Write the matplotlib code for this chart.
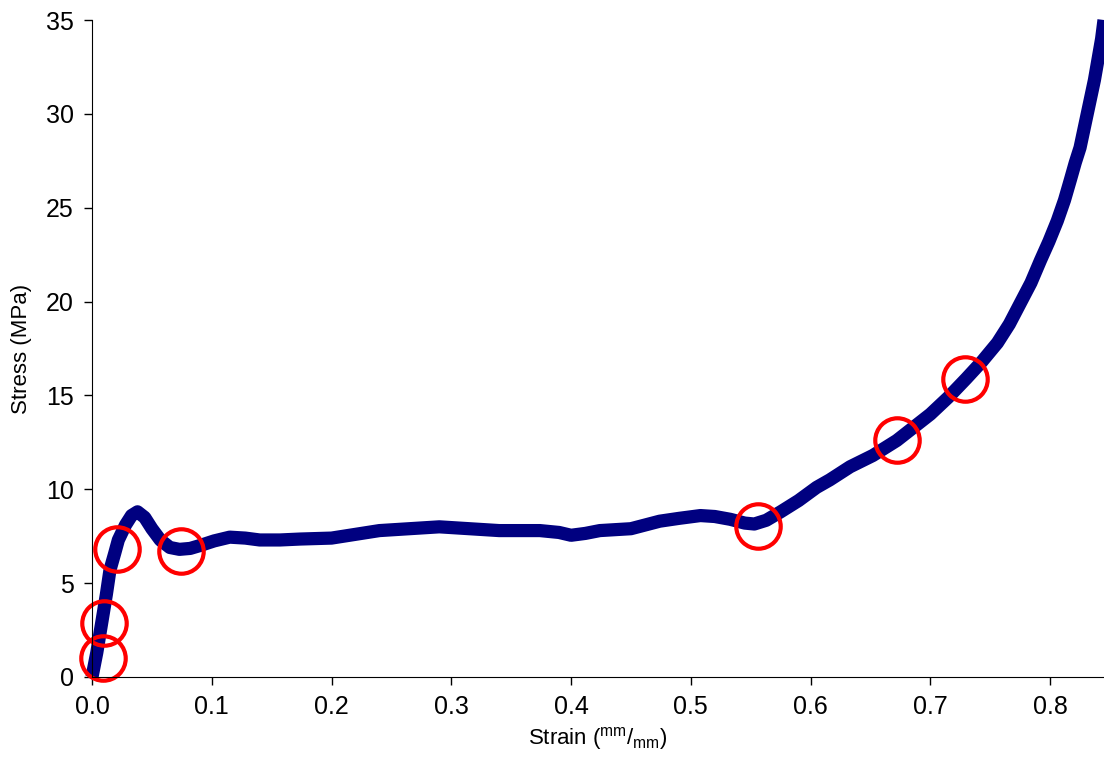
import matplotlib.pyplot as plt

plt.rcParams['font.family'] = ['Liberation Sans', 'DejaVu Sans']
plt.rcParams['mathtext.fontset'] = 'custom'
plt.rcParams['mathtext.rm'] = 'Liberation Sans'

# compression test curve, read at intervals along the trace
strain = [0.0, 0.004, 0.0084, 0.012, 0.015, 0.019, 0.022, 0.028, 0.033, 0.038,
          0.044, 0.050, 0.057, 0.065, 0.073, 0.082, 0.090, 0.102, 0.115, 0.128,
          0.140, 0.157, 0.174, 0.200, 0.220, 0.240, 0.265, 0.290, 0.315, 0.340,
          0.374, 0.390, 0.400, 0.412, 0.424, 0.450, 0.474, 0.490, 0.508, 0.520,
          0.533, 0.545, 0.553, 0.563, 0.575, 0.590, 0.605, 0.616, 0.633, 0.652,
          0.672, 0.686, 0.700, 0.715, 0.730, 0.743, 0.756, 0.766, 0.775, 0.784,
          0.792, 0.799, 0.806, 0.812, 0.817, 0.821, 0.825, 0.829, 0.833, 0.837,
          0.840, 0.843, 0.845]
stress = [0.0, 1.3, 3.0, 4.4, 5.7, 6.6, 7.3, 8.1, 8.6, 8.8,
          8.5, 7.9, 7.3, 6.9, 6.8, 6.85, 7.0, 7.25, 7.45, 7.4,
          7.3, 7.3, 7.35, 7.4, 7.6, 7.8, 7.9, 8.0, 7.9, 7.8,
          7.8, 7.7, 7.55, 7.65, 7.8, 7.9, 8.3, 8.45, 8.6, 8.55,
          8.4, 8.2, 8.15, 8.35, 8.8, 9.4, 10.1, 10.5, 11.2, 11.8,
          12.6, 13.3, 14.0, 14.9, 15.9, 16.8, 17.8, 18.8, 19.9, 21.0,
          22.2, 23.2, 24.3, 25.4, 26.5, 27.4, 28.2, 29.4, 30.6, 31.8,
          32.9, 34.0, 35.0]

# highlighted points on the curve
mark_strain = [0.009, 0.010, 0.021, 0.074, 0.556, 0.672, 0.729]
mark_stress = [1.0, 2.9, 6.8, 6.7, 8.05, 12.6, 15.9]

fig = plt.figure(figsize=(11.04, 7.61), dpi=100)
ax = fig.add_axes([92 / 1104, 1 - 677 / 761, 1 - 92 / 1104, (677 - 20) / 761])

ax.plot(strain, stress, color='#000080', lw=9.5, solid_capstyle='butt',
        solid_joinstyle='round', clip_on=False)
ax.plot(mark_strain, mark_stress, 'o', ms=32, mfc='none', mec='#ff0000', mew=3,
        clip_on=False)

ax.set_xlim(0, 0.845)
ax.set_ylim(0, 35)
ax.set_xticks([0.0, 0.1, 0.2, 0.3, 0.4, 0.5, 0.6, 0.7, 0.8])
ax.set_xticklabels(['0.0', '0.1', '0.2', '0.3', '0.4', '0.5', '0.6', '0.7', '0.8'])
ax.set_yticks(range(0, 36, 5))
ax.tick_params(direction='out', length=6, width=1, labelsize=18, pad=7)
for s in ['top', 'right']:
    ax.spines[s].set_visible(False)

ax.set_xlabel(r'Strain ($^{\mathregular{mm}}$/$_{\mathregular{mm}}$)', fontsize=16, labelpad=4)
ax.set_ylabel('Stress (MPa)', fontsize=16, labelpad=10)

fig.savefig('out.png', dpi=100)
